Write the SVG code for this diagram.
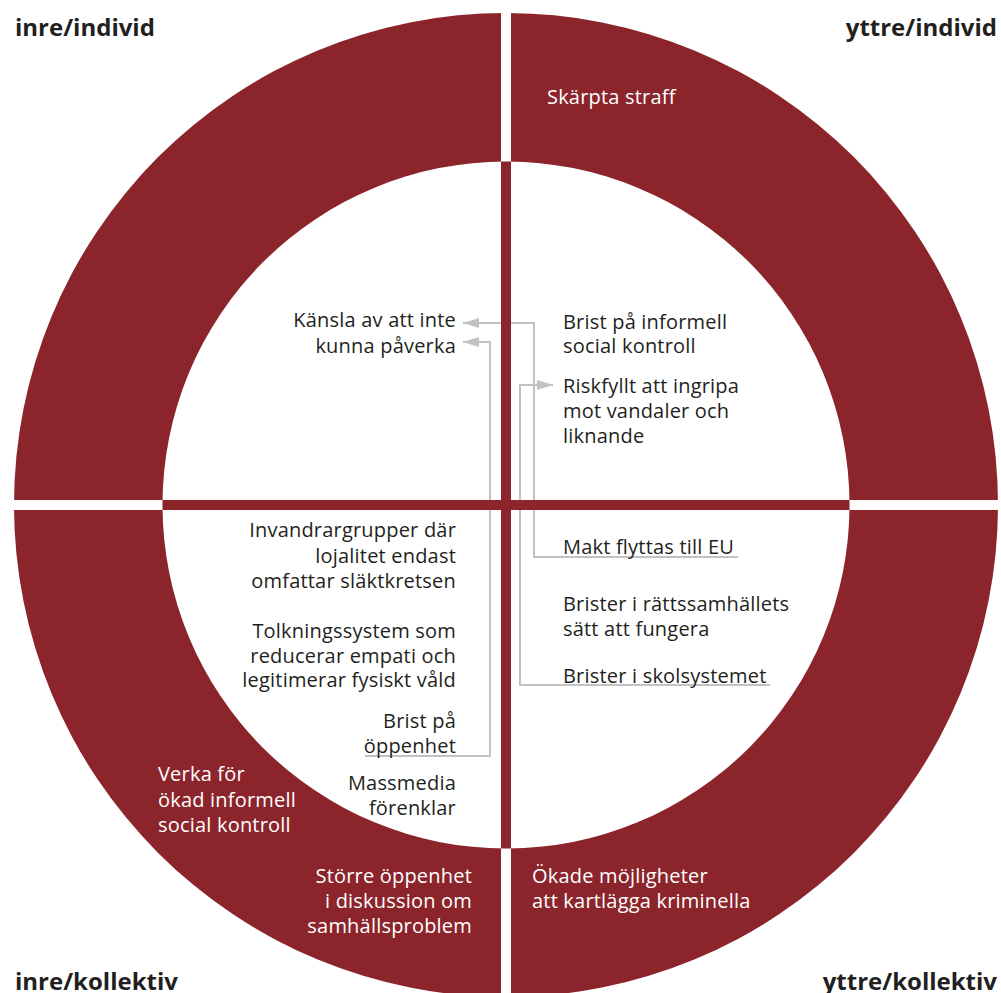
<svg xmlns="http://www.w3.org/2000/svg" width="1001" height="993" viewBox="0 0 1001 993">
<defs>
<style>
.t{font-family:"Open Sans","Noto Sans",sans-serif;font-size:20px;fill:#231f20;letter-spacing:0.2px}
.w{fill:#ffffff}
.e{text-anchor:end}
.h{font-family:"Open Sans","Noto Sans",sans-serif;font-size:24px;font-weight:700;fill:#231f20}
.c{fill:none;stroke:#c2c2c2;stroke-width:2}
.red{fill:#8b252b}
</style>
<marker id="ah" markerUnits="userSpaceOnUse" markerWidth="16" markerHeight="10" refX="16" refY="5" orient="auto"><path d="M0,0 L16,5 L0,10 z" fill="#c2c2c2"/></marker>
</defs>
<rect width="1001" height="993" fill="#ffffff"/>
<g id="ring">
<circle class="red" cx="506" cy="505" r="492"/>
<rect x="501" y="0" width="10" height="993" fill="#ffffff"/>
<rect x="0" y="500" width="1001" height="10" fill="#ffffff"/>
<circle cx="506" cy="505" r="343.5" fill="#ffffff"/>
</g>
<g id="connectors">
<path class="c" d="M738,557 H534 V323 H463" marker-end="url(#ah)"/>
<path class="c" d="M770,685 H520 V385 H553" marker-end="url(#ah)"/>
<path class="c" d="M365,756 H490 V342 H463" marker-end="url(#ah)"/>
</g>
<g id="cross">
<rect class="red" x="501" y="161.5" width="10" height="687"/>
<rect class="red" x="162.5" y="500" width="687" height="10"/>
</g>
<g id="heading-inre-individ"><text class="h" x="15" y="36">inre/individ</text></g>
<g id="heading-yttre-individ"><text class="h e" x="997" y="36">yttre/individ</text></g>
<g id="heading-inre-kollektiv"><text class="h" x="15" y="990">inre/kollektiv</text></g>
<g id="heading-yttre-kollektiv"><text class="h e" x="997" y="990">yttre/kollektiv</text></g>
<g id="skarpta-straff"><text class="t w" x="547" y="104">Skärpta straff</text></g>
<g id="kansla"><text class="t e"><tspan x="456" y="327">Känsla av att inte</tspan><tspan x="456" y="353">kunna påverka</tspan></text></g>
<g id="brist-informell"><text class="t"><tspan x="563" y="329">Brist på informell</tspan><tspan x="563" y="353">social kontroll</tspan></text></g>
<g id="riskfyllt"><text class="t"><tspan x="563" y="393">Riskfyllt att ingripa</tspan><tspan x="563" y="418">mot vandaler och</tspan><tspan x="563" y="443">liknande</tspan></text></g>
<g id="makt-eu"><text class="t" x="563" y="554">Makt flyttas till EU</text></g>
<g id="brister-ratt"><text class="t"><tspan x="563" y="611">Brister i rättssamhällets</tspan><tspan x="563" y="636">sätt att fungera</tspan></text></g>
<g id="brister-skol"><text class="t" x="563" y="683">Brister i skolsystemet</text></g>
<g id="invandrargrupper"><text class="t e"><tspan x="456" y="537">Invandrargrupper där</tspan><tspan x="456" y="563">lojalitet endast</tspan><tspan x="456" y="588">omfattar släktkretsen</tspan></text></g>
<g id="tolkningssystem"><text class="t e"><tspan x="456" y="638">Tolkningssystem som</tspan><tspan x="456" y="663">reducerar empati och</tspan><tspan x="456" y="687">legitimerar fysiskt våld</tspan></text></g>
<g id="brist-oppenhet"><text class="t e"><tspan x="456" y="728">Brist på</tspan><tspan x="456" y="753">öppenhet</tspan></text></g>
<g id="massmedia"><text class="t e"><tspan x="456" y="790">Massmedia</tspan><tspan x="456" y="815">förenklar</tspan></text></g>
<g id="verka"><text class="t w"><tspan x="158" y="781">Verka för</tspan><tspan x="158" y="807">ökad informell</tspan><tspan x="158" y="832">social kontroll</tspan></text></g>
<g id="storre-oppenhet"><text class="t w e"><tspan x="472" y="883">Större öppenhet</tspan><tspan x="472" y="908">i diskussion om</tspan><tspan x="472" y="933">samhällsproblem</tspan></text></g>
<g id="okade"><text class="t w"><tspan x="532" y="883">Ökade möjligheter</tspan><tspan x="532" y="908">att kartlägga kriminella</tspan></text></g>
</svg>
